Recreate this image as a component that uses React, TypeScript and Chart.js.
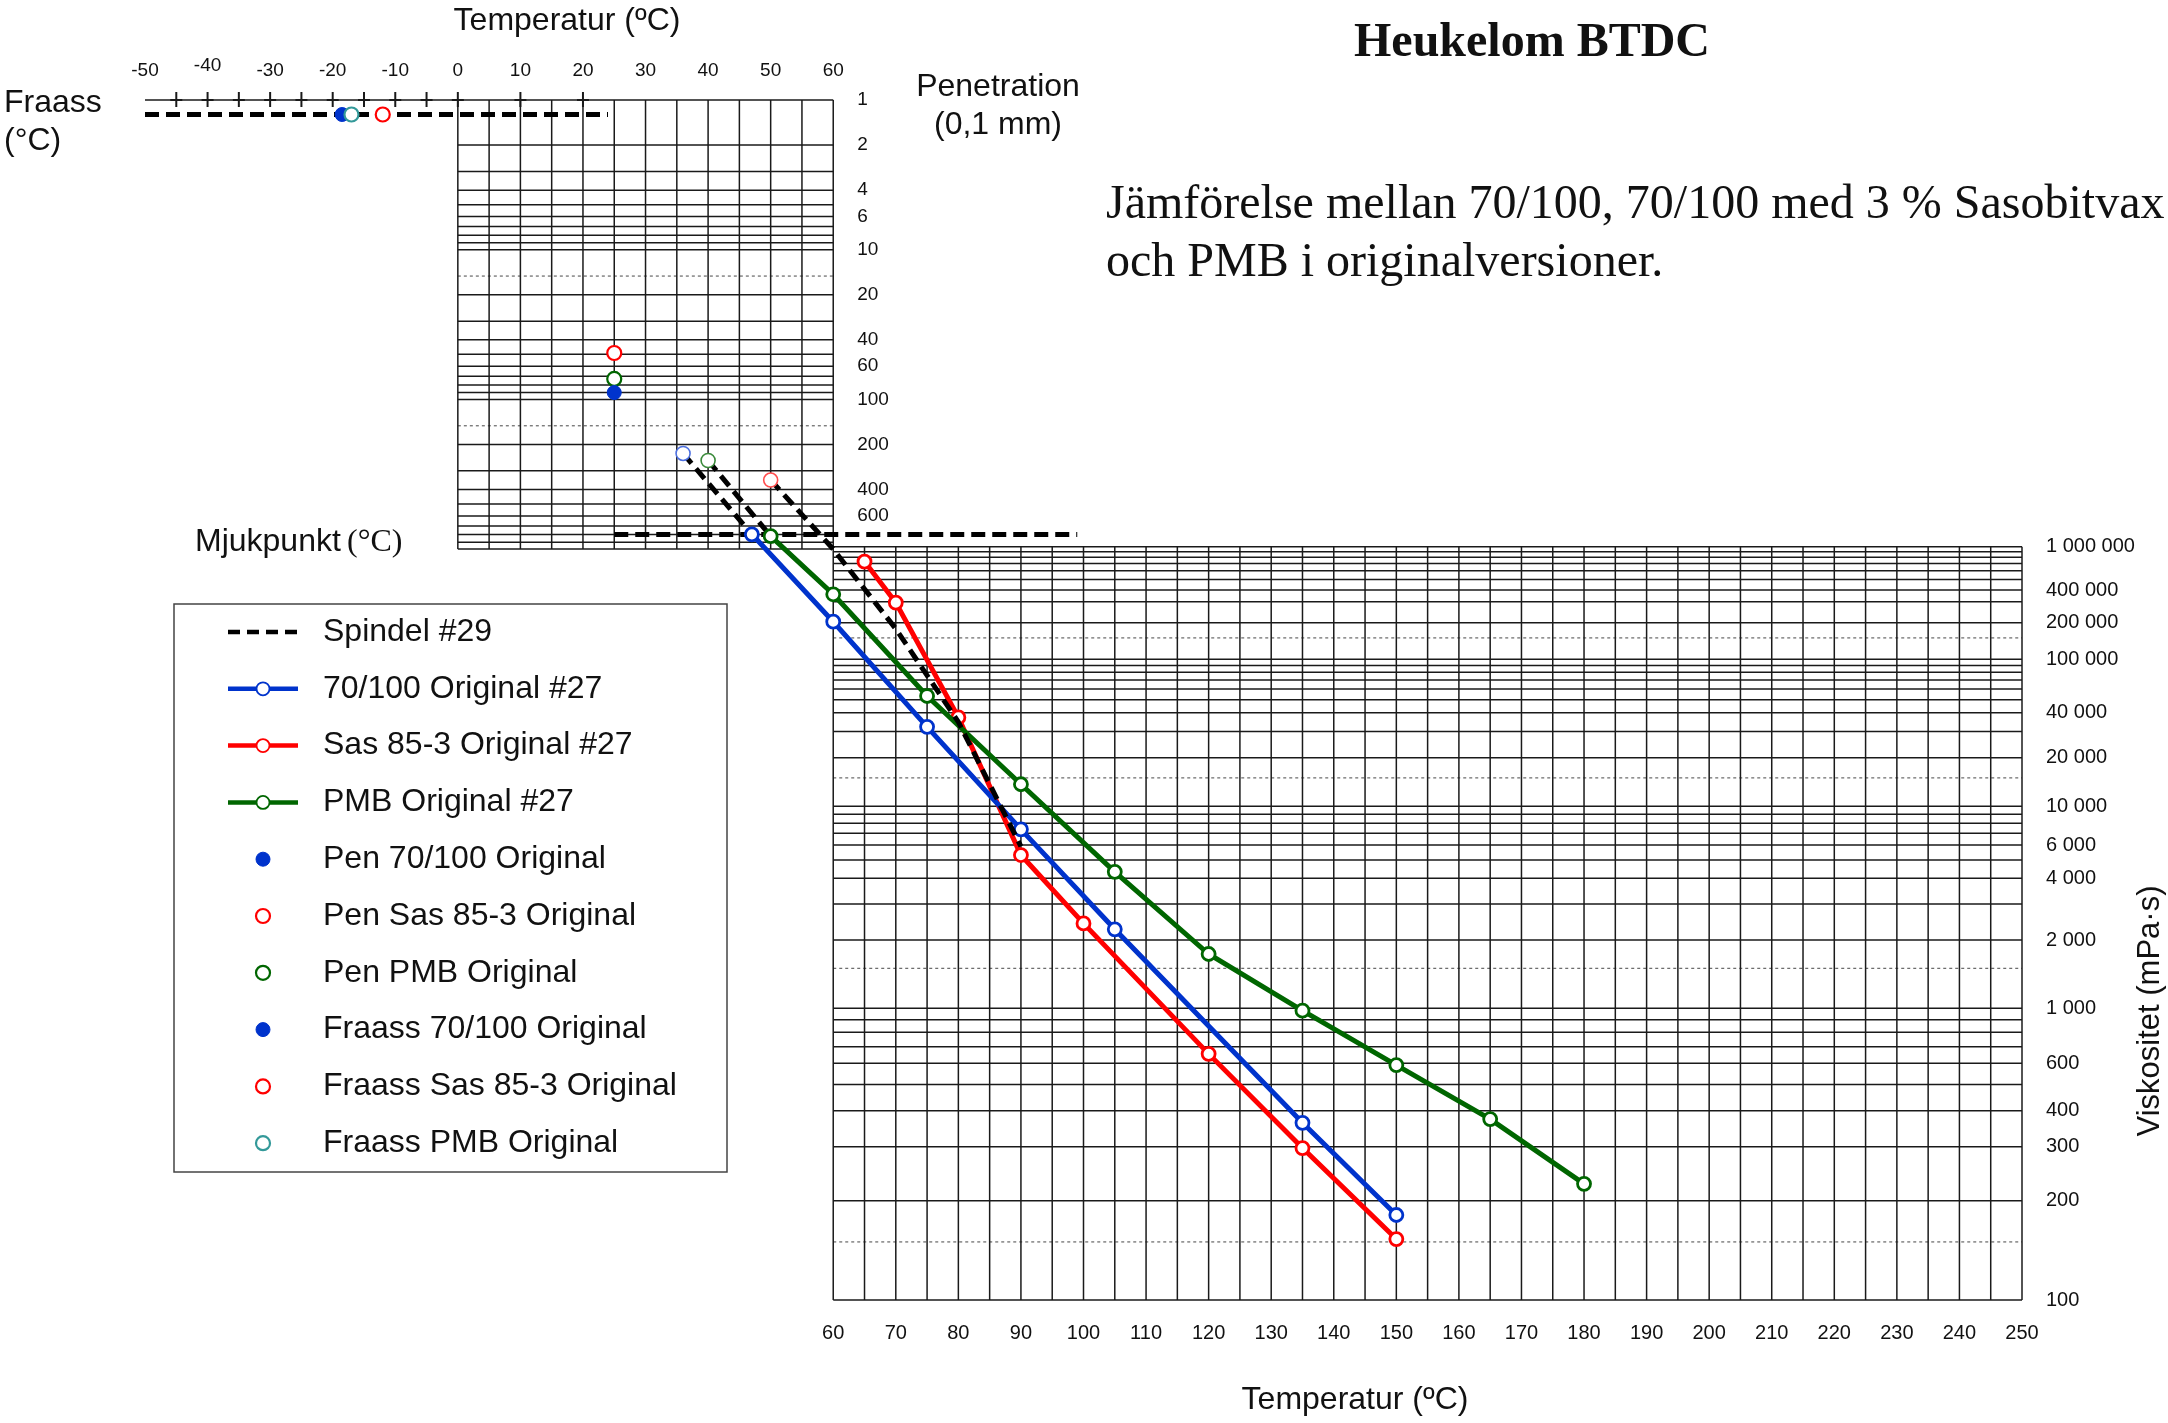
import React, { useEffect, useRef } from "react";
import { Chart, registerables } from "chart.js";

Chart.register(...registerables);

// ---------------- data ----------------
const PEN_TEST_TEMP = 25; // °C
const PEN_70_100 = 90; // 0,1 mm
const PEN_SAS = 49;
const PEN_PMB = 73;

const FRAASS_70_100 = -18.5; // °C
const FRAASS_SAS = -12;
const FRAASS_PMB = -17;

const TEMP_70_100 = [47, 60, 75, 90, 105, 135, 150];
const VISC_70_100 = [1300000, 204000, 32200, 7380, 2255, 363, 181];

const TEMP_SAS = [65, 70, 80, 90, 100, 120, 135, 150];
const VISC_SAS = [730000, 295000, 37200, 5310, 2410, 655, 297, 153];

const TEMP_PMB = [50, 60, 75, 90, 105, 120, 135, 150, 165, 180];
const VISC_PMB = [1250000, 360000, 53300, 13700, 4330, 1735, 978, 591, 374, 227];

const SPINDEL_TEMP_70_100 = [36, 47];
const SPINDEL_VISC_70_100 = [7200000, 1300000];
const SPINDEL_TEMP_PMB = [40, 50];
const SPINDEL_VISC_PMB = [6200000, 1250000];
const SPINDEL_TEMP_SAS = [50, 60, 70, 80, 90];
const SPINDEL_VISC_SAS = [4100000, 950000, 178000, 34700, 5900];

// Heukelom reference rows: Fraass at pen 1,25 and softening point at pen 800
const FRAASS_PEN = 1.25;
const MJUK_PEN = 800;
const FRAASS_LINE_TEMP = [-50, 24];
const MJUK_LINE_TEMP = [25, 99];

// ---------------- ticks / labels ----------------
const TOP_TEMP_TICKS = [-50, -40, -30, -20, -10, 0, 10, 20, 30, 40, 50, 60];
const BOTTOM_TEMP_TICKS = [60, 70, 80, 90, 100, 110, 120, 130, 140, 150, 160, 170, 180, 190, 200, 210, 220, 230, 240, 250];
const FRAASS_MARKS = [-45, -40, -35, -30, -25, -20, -15, -10, -5, 0, 10, 20];
const PEN_TICKS = [1, 2, 4, 6, 10, 20, 40, 60, 100, 200, 400, 600];
const VISC_TICKS = [1000000, 400000, 200000, 100000, 40000, 20000, 10000, 6000, 4000, 2000, 1000, 600, 400, 300, 200, 100];
const VISC_TICK_LABELS = ["1 000 000", "400 000", "200 000", "100 000", "40 000", "20 000", "10 000", "6 000", "4 000", "2 000", "1 000", "600", "400", "300", "200", "100"];

const PEN_GRID = [1, 2, 3, 4, 5, 6, 7, 8, 9, 10, 20, 30, 40, 50, 60, 70, 80, 90, 100, 200, 300, 400, 500, 600, 700, 800, 900, 1000];
const PEN_GRID_DOTTED = [15, 150];
const VISC_GRID = [
  1000000, 900000, 800000, 700000, 600000, 500000, 400000, 300000, 200000,
  100000, 90000, 80000, 70000, 60000, 50000, 40000, 30000, 20000,
  10000, 9000, 8000, 7000, 6000, 5000, 4000, 3000, 2000,
  1000, 900, 800, 700, 600, 500, 400, 300, 200, 100,
];
const VISC_GRID_DOTTED = [150000, 15000, 1500, 150];

// ---------------- axis definition ----------------
// y axis unit = one decade of penetration (pen 1 at 0). The Heukelom viscosity
// scale is non-logarithmic; it is calibrated against the same axis unit.
const Y_AXIS_MAX = 8.016;
const VISC_SCALE: [number, number][] = [
  [1000000, 2.984], [400000, 3.2732], [300000, 3.3514], [200000, 3.4917],
  [100000, 3.7362], [40000, 4.0929], [20000, 4.3935], [10000, 4.7181],
  [6000, 4.9766], [4000, 5.1991], [2000, 5.6112], [1000, 6.0675],
  [600, 6.4349], [400, 6.7515], [300, 6.992], [200, 7.3527], [100, 8.016],
];

const penToAxis = (p: number) => Math.log10(p);
function viscToAxis(v: number): number {
  const L = Math.log10(v);
  const pts = VISC_SCALE.map(([vv, u]) => [Math.log10(vv), u]);
  let i = 0;
  if (L >= pts[0][0]) i = 0;
  else if (L <= pts[pts.length - 1][0]) i = pts.length - 2;
  else {
    while (!(L <= pts[i][0] && L >= pts[i + 1][0])) i++;
  }
  const [L1, u1] = pts[i];
  const [L2, u2] = pts[i + 1];
  return u1 + ((L - L1) / (L2 - L1)) * (u2 - u1);
}
const viscSeries = (t: number[], v: number[]) => t.map((x, i) => ({ x, y: viscToAxis(v[i]) }));

// ---------------- styles ----------------
const BLUE = "#0033cc";
const RED = "#ff0000";
const GREEN = "#006600";
const TEAL = "#339999";
const SANS = '"Liberation Sans", Arial, sans-serif';
const SERIF = '"Liberation Serif", "Times New Roman", serif';

const LEGEND_ORDER = [
  "Spindel #29",
  "70/100 Original #27",
  "Sas 85-3 Original #27",
  "PMB Original #27",
  "Pen 70/100 Original",
  "Pen Sas 85-3 Original",
  "Pen PMB Original",
  "Fraass 70/100 Original",
  "Fraass Sas 85-3 Original",
  "Fraass PMB Original",
];

function buildDatasets(): any[] {
  const lineDs = (label: string, color: string, t: number[], v: number[]) => ({
    label,
    data: viscSeries(t, v),
    showLine: true,
    borderColor: color,
    backgroundColor: color,
    borderWidth: 5,
    pointRadius: 6.5,
    pointBorderWidth: 2.8,
    pointBorderColor: color,
    pointBackgroundColor: "#ffffff",
    legendMarker: { r: 6.5, bw: 1.8, fill: "#ffffff", stroke: color },
  });
  const spindel = (color: string, t: number[], v: number[]) => ({
    label: "Spindel #29",
    data: viscSeries(t, v),
    showLine: true,
    borderColor: "#000000",
    borderWidth: 5,
    borderDash: [13, 7],
    pointRadius: t.map((_, i) => (i === 0 ? 7 : 0)),
    pointBorderWidth: 1.6,
    pointBorderColor: color,
    pointBackgroundColor: "#ffffff",
    legendMarker: null,
  });
  const marker = (label: string, t: number, y: number, fill: string, stroke: string, r: number, bw: number) => ({
    label,
    data: [{ x: t, y }],
    showLine: false,
    pointRadius: r,
    pointBorderWidth: bw,
    pointBorderColor: stroke,
    pointBackgroundColor: fill,
    legendMarker: { r: r, bw: bw, fill, stroke },
  });
  const refLine = (label: string, t: number[], pen: number) => ({
    label,
    data: t.map((x) => ({ x, y: penToAxis(pen) })),
    showLine: true,
    borderColor: "#000000",
    borderWidth: 5,
    borderDash: [14, 7],
    pointRadius: 0,
    legendMarker: null,
  });
  // first dataset is drawn on top
  return [
    marker("Pen 70/100 Original", PEN_TEST_TEMP, penToAxis(PEN_70_100), BLUE, BLUE, 7, 1),
    marker("Pen Sas 85-3 Original", PEN_TEST_TEMP, penToAxis(PEN_SAS), "#ffffff", RED, 7, 2.2),
    marker("Pen PMB Original", PEN_TEST_TEMP, penToAxis(PEN_PMB), "#ffffff", GREEN, 7, 2.2),
    marker("Fraass Sas 85-3 Original", FRAASS_SAS, penToAxis(FRAASS_PEN), "#ffffff", RED, 7, 2.2),
    marker("Fraass PMB Original", FRAASS_PMB, penToAxis(FRAASS_PEN), "#ffffff", TEAL, 7, 2.2),
    marker("Fraass 70/100 Original", FRAASS_70_100, penToAxis(FRAASS_PEN), BLUE, BLUE, 7, 1),
    spindel("#ff4d4d", SPINDEL_TEMP_SAS, SPINDEL_VISC_SAS),
    lineDs("70/100 Original #27", BLUE, TEMP_70_100, VISC_70_100),
    lineDs("PMB Original #27", GREEN, TEMP_PMB, VISC_PMB),
    lineDs("Sas 85-3 Original #27", RED, TEMP_SAS, VISC_SAS),
    spindel("#4d70e0", SPINDEL_TEMP_70_100, SPINDEL_VISC_70_100),
    spindel("#3a8a3a", SPINDEL_TEMP_PMB, SPINDEL_VISC_PMB),
    refLine("Mjukpunkt", MJUK_LINE_TEMP, MJUK_PEN),
    refLine("Fraass", FRAASS_LINE_TEMP, FRAASS_PEN),
  ];
}

const heukelomPlugin = {
  id: "heukelom",
  beforeDatasetsDraw(chart: any) {
    const ctx: CanvasRenderingContext2D = chart.ctx;
    const xs = chart.scales.x;
    const ys = chart.scales.y;
    const X = (t: number) => xs.getPixelForValue(t);
    const Y = (u: number) => ys.getPixelForValue(u);
    ctx.save();

    const line = (x1: number, y1: number, x2: number, y2: number, dotted = false, w = 1.5) => {
      ctx.beginPath();
      if (dotted) {
        ctx.setLineDash([3, 3]);
        ctx.strokeStyle = "#666";
        ctx.lineWidth = 1.2;
      } else {
        ctx.setLineDash([]);
        ctx.strokeStyle = "#1a1a1a";
        ctx.lineWidth = w;
      }
      ctx.moveTo(x1, y1);
      ctx.lineTo(x2, y2);
      ctx.stroke();
    };

    // penetration grid (0..60 °C)
    PEN_GRID.forEach((p) => {
      const y = Y(penToAxis(p));
      line(p === 1 ? X(-50) : X(0), y, X(60), y);
    });
    PEN_GRID_DOTTED.forEach((p) => {
      const y = Y(penToAxis(p));
      line(X(0), y, X(60), y, true);
    });
    for (let t = 0; t <= 60; t += 5) line(X(t), Y(penToAxis(1)), X(t), Y(penToAxis(1000)));
    // Fraass scale marks (+)
    FRAASS_MARKS.forEach((t) => {
      line(X(t), Y(0) - 8, X(t), Y(0) + 7, false, 2);
      line(X(t) - 6, Y(0), X(t) + 6, Y(0), false, 2);
    });

    // viscosity grid (60..250 °C)
    VISC_GRID.forEach((v) => {
      const y = Y(viscToAxis(v));
      line(X(60), y, X(250), y);
    });
    VISC_GRID_DOTTED.forEach((v) => {
      const y = Y(viscToAxis(v));
      line(X(60), y, X(250), y, true);
    });
    for (let t = 60; t <= 250; t += 5) line(X(t), Y(viscToAxis(1000000)), X(t), Y(viscToAxis(100)));

    ctx.setLineDash([]);
    ctx.fillStyle = "#111";

    // top temperature ticks
    ctx.font = `19px ${SANS}`;
    ctx.textAlign = "center";
    ctx.textBaseline = "middle";
    TOP_TEMP_TICKS.forEach((t) => ctx.fillText(String(t), X(t), t === -40 ? 66 : 71));
    // bottom temperature ticks
    ctx.font = `20px ${SANS}`;
    BOTTOM_TEMP_TICKS.forEach((t) => ctx.fillText(String(t), X(t), 1333));

    // penetration labels
    ctx.textAlign = "left";
    ctx.font = `19px ${SANS}`;
    PEN_TICKS.forEach((p) => ctx.fillText(String(p), X(60) + 24, Y(penToAxis(p))));
    // viscosity labels
    ctx.font = `20px ${SANS}`;
    VISC_TICKS.forEach((v, i) => ctx.fillText(VISC_TICK_LABELS[i], X(250) + 24, Y(viscToAxis(v))));

    // axis titles
    ctx.font = `32px ${SANS}`;
    ctx.textAlign = "center";
    ctx.fillText("Temperatur (ºC)", 567, 21);
    ctx.fillText("Temperatur (ºC)", 1355, 1400);
    ctx.fillText("Penetration", 998, 87);
    ctx.fillText("(0,1 mm)", 998, 125);
    ctx.textAlign = "left";
    ctx.fillText("Fraass", 4, 103);
    ctx.fillText("(°C)", 4, 141);
    ctx.fillText("Mjukpunkt", 195, 542);
    ctx.font = `32px ${SERIF}`;
    ctx.fillText("(°C)", 347, 543);

    ctx.save();
    ctx.translate(2150, 1011);
    ctx.rotate(-Math.PI / 2);
    ctx.font = `31px ${SANS}`;
    ctx.textAlign = "center";
    ctx.fillText("Viskositet (mPa·s)", 0, 0);
    ctx.restore();

    // titles
    ctx.textBaseline = "alphabetic";
    ctx.textAlign = "center";
    ctx.font = `bold 48px ${SERIF}`;
    ctx.fillText("Heukelom BTDC", 1532, 56);
    ctx.textAlign = "left";
    ctx.font = `48px ${SERIF}`;
    ctx.fillText("Jämförelse mellan 70/100, 70/100 med 3 % Sasobitvax", 1106, 218);
    ctx.fillText("och PMB i originalversioner.", 1106, 276);

    ctx.restore();
  },
  afterDatasetsDraw(chart: any) {
    const ctx: CanvasRenderingContext2D = chart.ctx;
    ctx.save();
    const bx = 174, by = 604, bw = 553, bh = 568;
    ctx.fillStyle = "#ffffff";
    ctx.fillRect(bx, by, bw, bh);
    ctx.strokeStyle = "#444";
    ctx.lineWidth = 1.5;
    ctx.setLineDash([]);
    ctx.strokeRect(bx, by, bw, bh);
    const datasets = chart.data.datasets;
    LEGEND_ORDER.forEach((name, i) => {
      const ds = datasets.find((d: any) => d.label === name);
      if (!ds) return;
      const y = 632 + i * 56.8;
      if (ds.showLine) {
        ctx.beginPath();
        ctx.setLineDash(ds.borderDash ? [12, 7] : []);
        ctx.strokeStyle = ds.borderColor;
        ctx.lineWidth = 4.5;
        ctx.moveTo(228, y);
        ctx.lineTo(298, y);
        ctx.stroke();
        ctx.setLineDash([]);
      }
      const m = ds.legendMarker;
      if (m) {
        ctx.beginPath();
        ctx.arc(263, y, m.r, 0, Math.PI * 2);
        ctx.fillStyle = m.fill;
        ctx.fill();
        ctx.lineWidth = m.bw;
        ctx.strokeStyle = m.stroke;
        ctx.stroke();
      }
      ctx.fillStyle = "#111";
      ctx.font = `32px ${SANS}`;
      ctx.textAlign = "left";
      ctx.textBaseline = "middle";
      ctx.fillText(name, 323, y);
    });
    ctx.restore();
  },
};

export default function App() {
  const canvasRef = useRef<HTMLCanvasElement | null>(null);
  useEffect(() => {
    if (!canvasRef.current) return;
    const chart = new Chart(canvasRef.current, {
      type: "scatter",
      data: { datasets: buildDatasets() },
      options: {
        responsive: false,
        animation: false,
        devicePixelRatio: 1,
        layout: { padding: { left: 145, right: 146, top: 100, bottom: 123 } },
        scales: {
          x: { type: "linear", min: -50, max: 250, display: false },
          y: { type: "linear", min: 0, max: Y_AXIS_MAX, reverse: true, display: false },
        },
        elements: { line: { tension: 0, borderCapStyle: "butt" } },
        plugins: {
          legend: { display: false },
          tooltip: { enabled: false },
          title: { display: false },
        },
      } as any,
      plugins: [heukelomPlugin],
    });
    return () => chart.destroy();
  }, []);
  return (
    <div style={{ position: "fixed", left: 0, top: 0, width: 2168, height: 1423, background: "#ffffff" }}>
      <canvas ref={canvasRef} width={2168} height={1423} style={{ display: "block" }} />
    </div>
  );
}
